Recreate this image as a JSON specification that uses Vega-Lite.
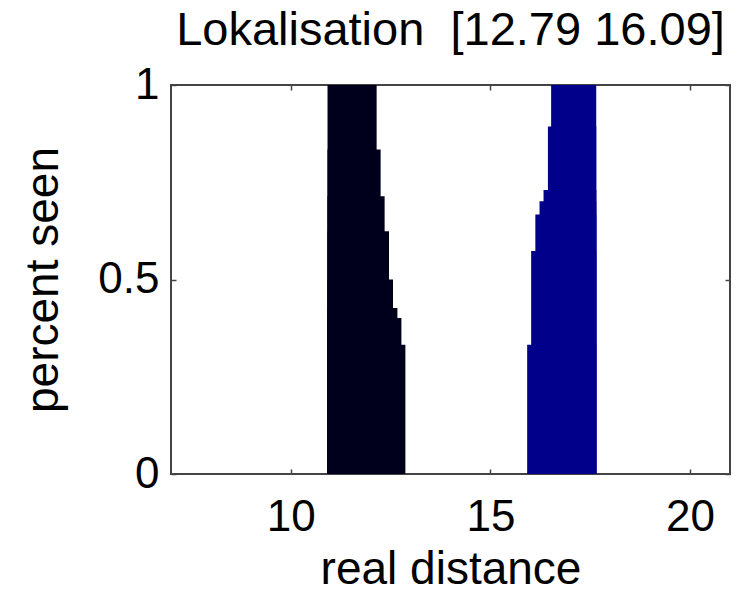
{
  "$schema": "https://vega.github.io/schema/vega-lite/v6.json",
  "autosize": "none",
  "width": 559,
  "height": 389,
  "padding": {"left": 171, "top": 85, "right": 18, "bottom": 123},
  "background": "white",
  "title": {"text": "Lokalisation\u00a0\u00a0[12.79 16.09]", "font": "Liberation Sans", "fontSize": 47, "fontWeight": "normal", "color": "#000", "offset": 8, "anchor": "middle"},
  "config": {
    "view": {"stroke": "#444", "strokeWidth": 2},
    "axis": {"labelFont": "Liberation Sans", "titleFont": "Liberation Sans", "labelFontSize": 44, "titleFontSize": 46, "titleFontWeight": "normal", "labelColor": "#000", "titleColor": "#000", "grid": false, "domain": false, "tickColor": "#444", "tickWidth": 1.5}
  },
  "data": {"values": [
    {"series": "near", "x1": 10.92, "x2": 12.15, "p": 1},
    {"series": "near", "x1": 10.92, "x2": 12.25, "p": 0.834},
    {"series": "near", "x1": 10.92, "x2": 12.35, "p": 0.714},
    {"series": "near", "x1": 10.92, "x2": 12.46, "p": 0.624},
    {"series": "near", "x1": 10.92, "x2": 12.56, "p": 0.5},
    {"series": "near", "x1": 10.92, "x2": 12.67, "p": 0.427},
    {"series": "near", "x1": 10.92, "x2": 12.77, "p": 0.401},
    {"series": "near", "x1": 10.92, "x2": 12.87, "p": 0.332},
    {"series": "far", "x1": 15.92, "x2": 17.65, "p": 0.332},
    {"series": "far", "x1": 16.02, "x2": 17.65, "p": 0.573},
    {"series": "far", "x1": 16.125, "x2": 17.65, "p": 0.667},
    {"series": "far", "x1": 16.23, "x2": 17.65, "p": 0.701},
    {"series": "far", "x1": 16.33, "x2": 17.65, "p": 0.73},
    {"series": "far", "x1": 16.44, "x2": 17.65, "p": 0.893},
    {"series": "far", "x1": 16.52, "x2": 17.65, "p": 1}
  ]},
  "layer": [
    {
      "mark": {"type": "rect"},
      "encoding": {
        "x": {"field": "x1", "type": "quantitative", "scale": {"domain": [7, 21], "nice": false, "zero": false}, "axis": {"values": [10, 15, 20], "tickSize": -5, "labelPadding": 26, "title": "real distance", "titlePadding": 8}},
        "x2": {"field": "x2"},
        "y": {"field": "p", "type": "quantitative", "scale": {"domain": [0, 1], "nice": false}, "axis": {"values": [0, 0.5, 1], "format": ".1~f", "tickSize": -5, "labelPadding": 17, "title": "percent seen", "titlePadding": 30}},
        "y2": {"datum": 0},
        "color": {"field": "series", "type": "nominal", "scale": {"domain": ["near", "far"], "range": ["#00001c", "#00008a"]}, "legend": null}
      }
    },
    {
      "mark": {"type": "rect", "opacity": 0},
      "encoding": {
        "x": {"field": "x1", "type": "quantitative", "axis": {"orient": "top", "values": [10, 15, 20], "tickSize": -5, "labels": false, "title": null}},
        "y": {"field": "p", "type": "quantitative", "axis": {"orient": "right", "values": [0, 0.5, 1], "tickSize": -5, "labels": false, "title": null}}
      }
    }
  ],
  "resolve": {"axis": {"x": "independent", "y": "independent"}}
}
